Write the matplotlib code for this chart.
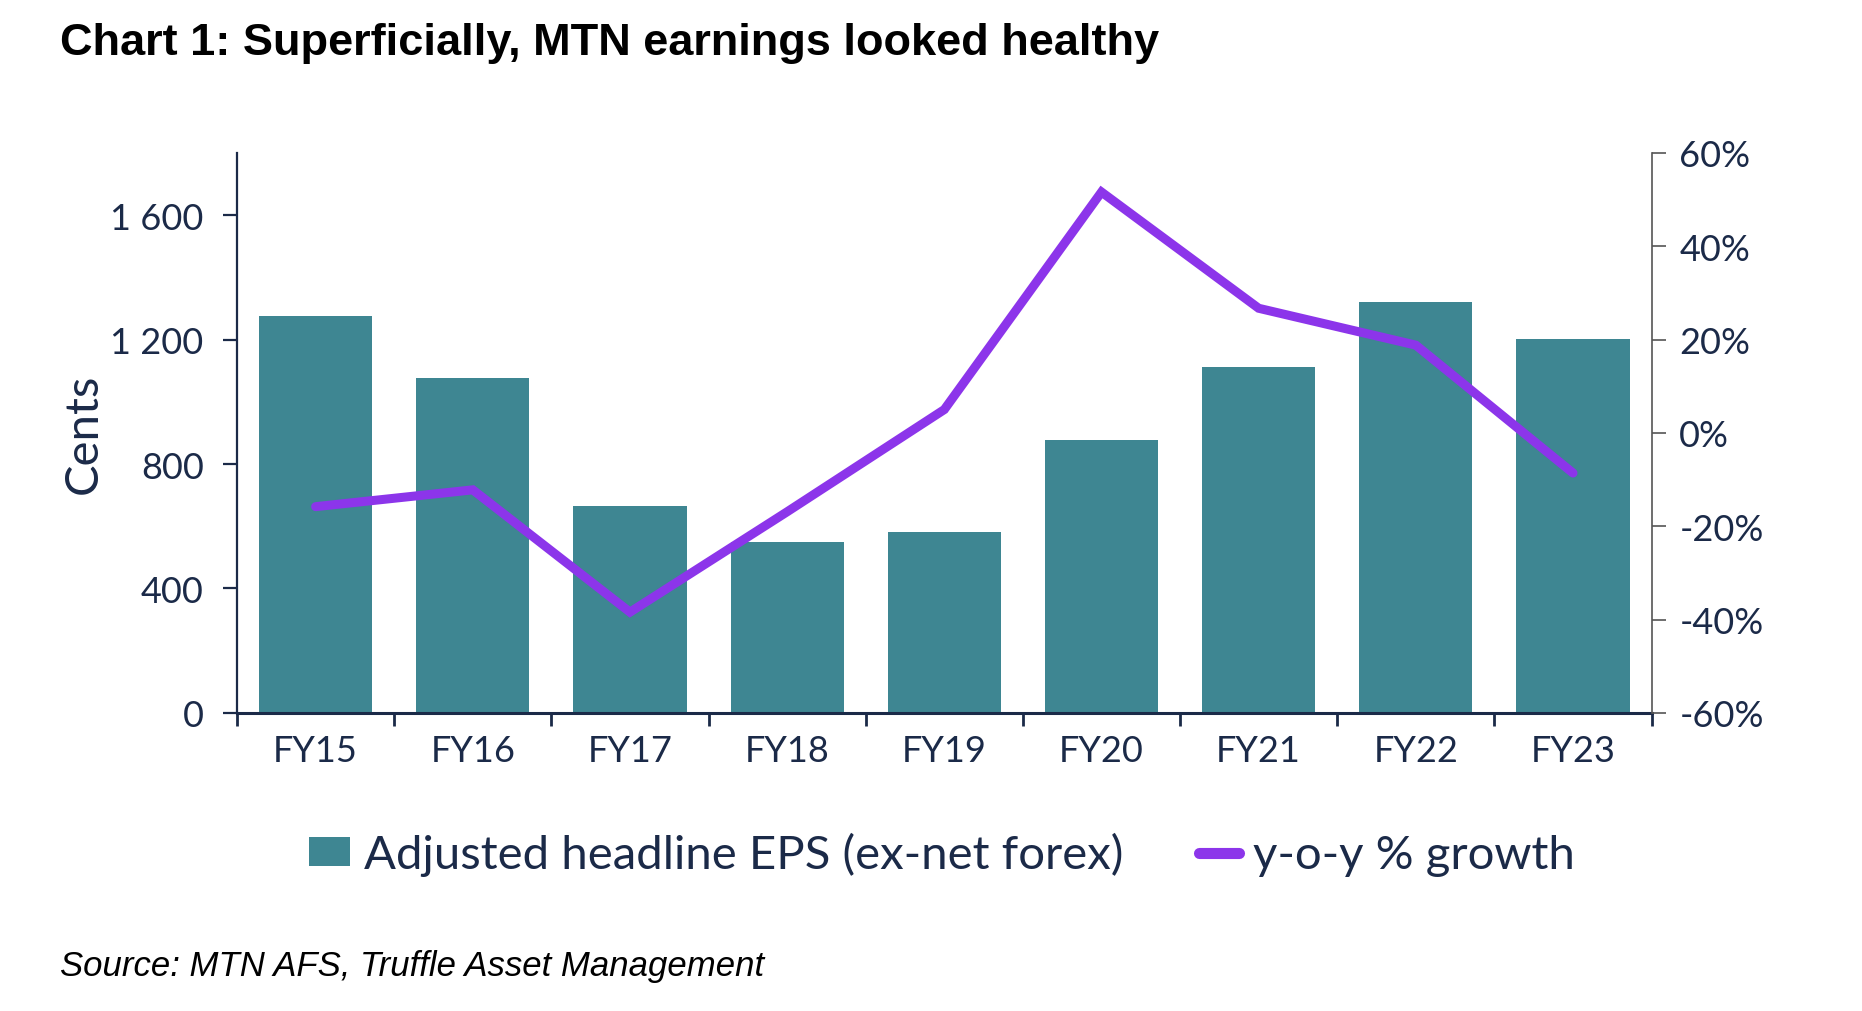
import matplotlib
matplotlib.use("Agg")
import matplotlib.pyplot as plt
from matplotlib.patches import Patch
from matplotlib.lines import Line2D
from matplotlib.ticker import FixedLocator, FuncFormatter

categories = ["FY15", "FY16", "FY17", "FY18", "FY19", "FY20", "FY21", "FY22", "FY23"]
eps_cents = [1275, 1076, 664, 550, 580, 878, 1111, 1321, 1202]
yoy_growth = [-15.8, -12.2, -38.4, -16.9, 5.0, 51.6, 26.7, 18.8, -8.6]
left_ticks = [0, 400, 800, 1200, 1600]
right_ticks = [-60, -40, -20, 0, 20, 40, 60]

BAR_C = "#3e8692"
LINE_C = "#8c35ea"
TXT_C = "#1b2a48"

plt.rcParams['font.family'] = ['Lato', 'DejaVu Sans']

fig = plt.figure(figsize=(18.62, 10.12), dpi=100)
ax = fig.add_axes([0.1273, 0.2945, 0.7597, 0.5535])
ax2 = ax.twinx()

x = list(range(len(categories)))
ax.bar(x, eps_cents, width=0.72, color=BAR_C, zorder=2, label="Adjusted headline EPS (ex-net forex)")
ax2.plot(x, yoy_growth, color=LINE_C, lw=6.5, solid_capstyle='round', solid_joinstyle='miter', zorder=3)

ax.set_xlim(-0.5, len(categories) - 0.5)
ax.set_ylim(0, 1800)
ax2.set_ylim(-60, 60)

ax.yaxis.set_major_locator(FixedLocator(left_ticks))
ax.yaxis.set_major_formatter(FuncFormatter(lambda v, p: f"{int(v):,}".replace(",", " ")))
ax2.yaxis.set_major_locator(FixedLocator(right_ticks))
ax2.yaxis.set_major_formatter(FuncFormatter(lambda v, p: f"{int(v)}%"))

ax.set_xticks(x)
ax.set_xticklabels(categories)
ax.set_xticks([i - 0.5 for i in range(len(categories) + 1)], minor=True)
ax.tick_params(axis='x', which='major', length=0, pad=15, labelsize=26, labelcolor=TXT_C)
ax.tick_params(axis='x', which='minor', length=9, width=2, color=TXT_C, direction='out')
ax.tick_params(axis='y', length=10, width=1.6, color=TXT_C, pad=14, labelsize=26, labelcolor=TXT_C)
ax2.tick_params(axis='y', length=10, width=1.2, color="#555555", pad=10, labelsize=26, labelcolor=TXT_C)

for a in (ax, ax2):
    a.spines['top'].set_visible(False)
ax.spines['right'].set_visible(False)
ax.spines['left'].set_color(TXT_C)
ax.spines['left'].set_linewidth(1.6)
ax.spines['bottom'].set_color(TXT_C)
ax.spines['bottom'].set_linewidth(2.2)
ax2.spines['left'].set_visible(False)
ax2.spines['bottom'].set_visible(False)
ax2.spines['right'].set_color("#555555")
ax2.spines['right'].set_linewidth(1.2)

ax.set_ylabel("Cents", fontsize=34, color=TXT_C, labelpad=4)

handles = [Patch(facecolor=BAR_C, edgecolor='none'),
           Line2D([0], [0], color=LINE_C, lw=8, solid_capstyle='round')]
labels = ["Adjusted headline EPS (ex-net forex)", "y-o-y % growth"]
fig.legend(handles, labels, loc='center', bbox_to_anchor=(0.506, 0.155), ncol=2,
           frameon=False, fontsize=34, labelcolor=TXT_C, handlelength=0.85,
           handletextpad=0.3, columnspacing=1.6, handleheight=0.55)

fig.text(0.032, 0.957, "Chart 1: Superficially, MTN earnings looked healthy",
         fontsize=32.5, fontweight='bold', family=['Liberation Sans', 'DejaVu Sans'],
         color='black', va='center', ha='left')
fig.text(0.032, 0.045, "Source: MTN AFS, Truffle Asset Management",
         fontsize=25, style='italic', family=['Liberation Sans', 'DejaVu Sans'],
         color='black', va='center', ha='left')

fig.savefig("out.png", dpi=100, facecolor='white')
